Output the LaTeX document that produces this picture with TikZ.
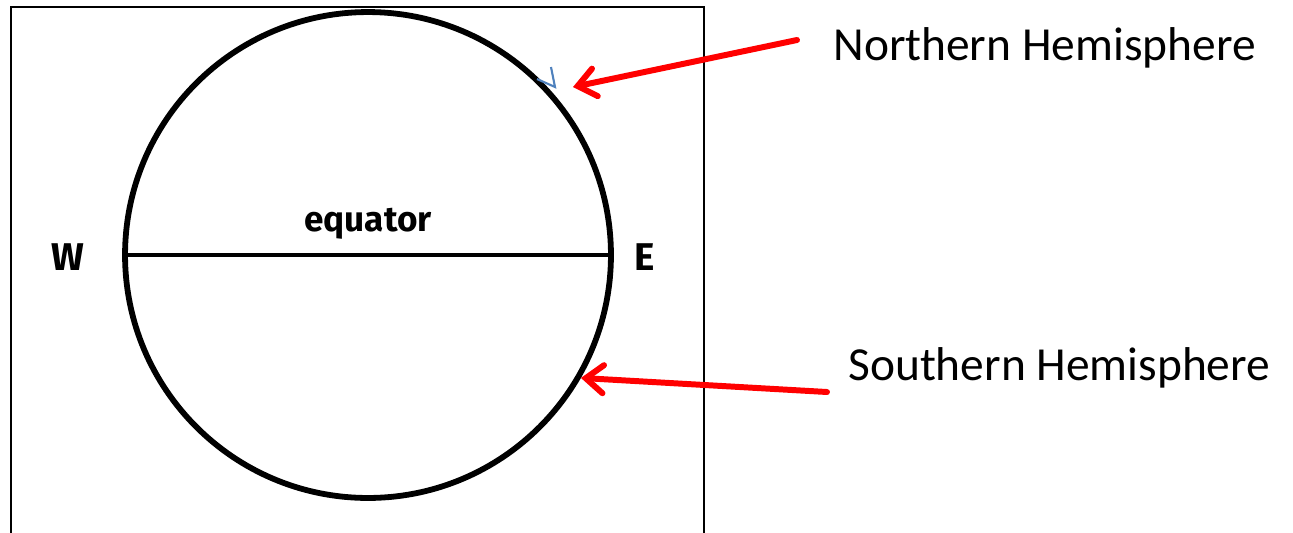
\documentclass[tikz,border=0pt]{standalone}
\usepackage{fontspec}
\setmainfont{Carlito}
\newfontfamily\handfont{Fira Sans}
\usetikzlibrary{arrows.meta,positioning,calc}

\begin{document}
\begin{tikzpicture}[x=0.02cm,y=-0.02cm]
  \tikzstyle{globe} = [circle, draw, line width=3.3pt, minimum size=9.72cm, inner sep=0pt]
  \tikzstyle{hand} = [font=\handfont\bfseries\fontsize{20}{20}\selectfont, inner sep=0pt]
  \tikzstyle{label} = [anchor=west, font=\fontsize{27}{27}\selectfont, inner sep=0pt]
  \tikzstyle{pointer} = [draw=red, line width=3.4pt, line cap=round, -{Straight Barb[length=10pt, width=16pt, line cap=round]}]

  \useasboundingbox (0,0) rectangle (1293,532);
  % sheet border
  \draw [line width=1.1pt] (11,560) -- (11,7) -- (704,7) -- (704,560);

  \node [globe] (earth) at (368,255) {};
  \draw [line width=2.5pt] (earth.west) -- (earth.east);
  \node [hand] (eq) at (368,224) {equator};
  \node [hand, font=\handfont\bfseries\fontsize{22}{22}\selectfont] (W) at (68,257) {W};
  \node [hand, font=\handfont\bfseries\fontsize{22}{22}\selectfont] (E) at (645,257) {E};

  % small tick
  \draw [color={rgb,255:red,79;green,129;blue,189}, line width=1.2pt] (537,79) -- (555,87) -- (551,67);

  \node [label] (north) at (833,48) {Northern Hemisphere};
  \node [label] (south) at (848,368) {Southern Hemisphere};

  \coordinate (ntail) at (797,40);
  \coordinate (ntip) at (573,87);
  \coordinate (stail) at (827,392);

  \draw [pointer] (ntail) -- (ntip);
  \draw [pointer] (stail) -- (earth.-30);
\end{tikzpicture}
\end{document}
